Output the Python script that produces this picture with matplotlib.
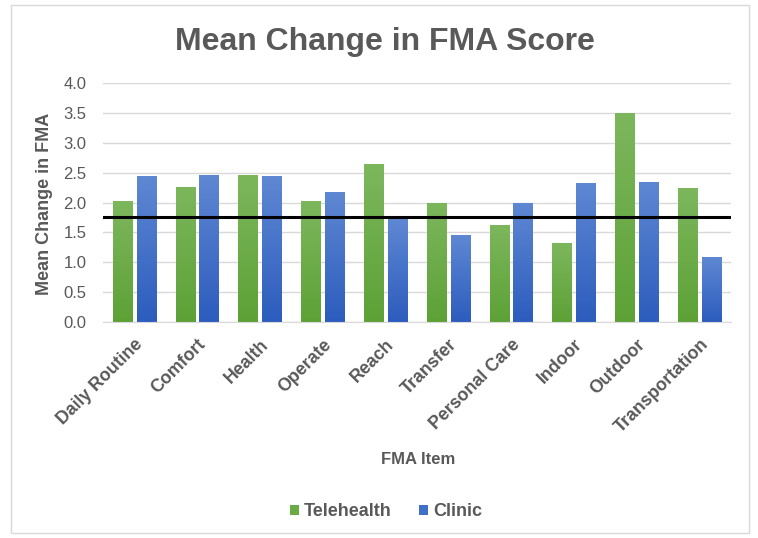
import numpy as np
import matplotlib
matplotlib.use("Agg")
import matplotlib.pyplot as plt
from matplotlib.colors import LinearSegmentedColormap
from matplotlib.patches import Rectangle, Patch

categories = ["Daily Routine", "Comfort", "Health", "Operate", "Reach",
              "Transfer", "Personal Care", "Indoor", "Outdoor", "Transportation"]
telehealth = [2.02, 2.26, 2.46, 2.02, 2.65, 2.00, 1.63, 1.32, 3.50, 2.25]
clinic = [2.44, 2.46, 2.44, 2.17, 1.72, 1.45, 2.00, 2.33, 2.35, 1.08]
reference_line = 1.75
y_ticks = [0.0, 0.5, 1.0, 1.5, 2.0, 2.5, 3.0, 3.5, 4.0]

GRAY = "#595959"
plt.rcParams["font.family"] = ["Liberation Sans", "DejaVu Sans"]

green_cmap = LinearSegmentedColormap.from_list("g", ["#5da136", "#7db75d"])
blue_cmap = LinearSegmentedColormap.from_list("b", ["#2c5cbd", "#5f88d3"])


def gradient_bars(ax, bars, cmap):
	grad = np.linspace(0, 1, 256).reshape(-1, 1)
	for b in bars:
		x0, y0 = b.get_x(), b.get_y()
		w, h = b.get_width(), b.get_height()
		b.set_facecolor("none")
		b.set_edgecolor("none")
		im = ax.imshow(grad, cmap=cmap, origin="lower", aspect="auto",
		               extent=(x0, x0 + w, y0, y0 + h), zorder=2)
		im.set_clip_path(b)


fig = plt.figure(figsize=(7.58, 5.38), dpi=100)
fig.patches.append(Rectangle((11 / 758, 5 / 538), 738 / 758, 528 / 538,
                             transform=fig.transFigure, fill=False,
                             edgecolor="#d9d9d9", linewidth=1.0))

ax = fig.add_axes([103 / 758, 1 - 322 / 538, 628 / 758, 239 / 538])

x = np.arange(len(categories))
width = 0.31
b1 = ax.bar(x - 0.19, telehealth, width=width, zorder=2)
b2 = ax.bar(x + 0.19, clinic, width=width, zorder=2)
gradient_bars(ax, b1, green_cmap)
gradient_bars(ax, b2, blue_cmap)

ax.axhline(reference_line, color="black", linewidth=2.2, zorder=3)

ax.set_xlim(-0.5, len(categories) - 0.5)
ax.set_ylim(0, 4.0)
ax.set_yticks(y_ticks)
ax.set_yticklabels([f"{v:.1f}" for v in y_ticks], color=GRAY, fontsize=12)
ax.set_xticks(x)
ax.set_xticklabels(categories, rotation=45, ha="right", rotation_mode="anchor",
                   color=GRAY, fontsize=12.8, fontweight="bold")
ax.tick_params(axis="y", length=0, pad=12)
ax.tick_params(axis="x", length=0, pad=10)
ax.grid(axis="y", color="#d9d9d9", linewidth=1.0, zorder=0)
ax.set_axisbelow(True)
for s in ["top", "right", "left"]:
	ax.spines[s].set_visible(False)
ax.spines["bottom"].set_color("#d9d9d9")

fig.text(45 / 758, 1 - 204 / 538, "Mean Change in FMA", color=GRAY, fontsize=13,
         fontweight="bold", rotation=90, ha="center", va="center")
fig.text(418 / 758, 1 - 459 / 538, "FMA Item", color=GRAY, fontsize=12,
         fontweight="bold", ha="center", va="center")
fig.text(385 / 758, 1 - 42 / 538, "Mean Change in FMA Score", color=GRAY,
         fontsize=23, fontweight="bold", ha="center", va="center")

handles = [Patch(facecolor="#6aab45", label="Telehealth"),
           Patch(facecolor="#3f6fc8", label="Clinic")]
fig.legend(handles=handles, loc="center", bbox_to_anchor=(386 / 758, 1 - 512 / 538),
           ncol=2, frameon=False, handlelength=0.5, handleheight=0.5,
           handletextpad=0.3, columnspacing=1.5,
           prop={"weight": "bold", "size": 13})
for t in fig.legends[0].get_texts():
	t.set_color(GRAY)

fig.savefig("out.png", dpi=100)
